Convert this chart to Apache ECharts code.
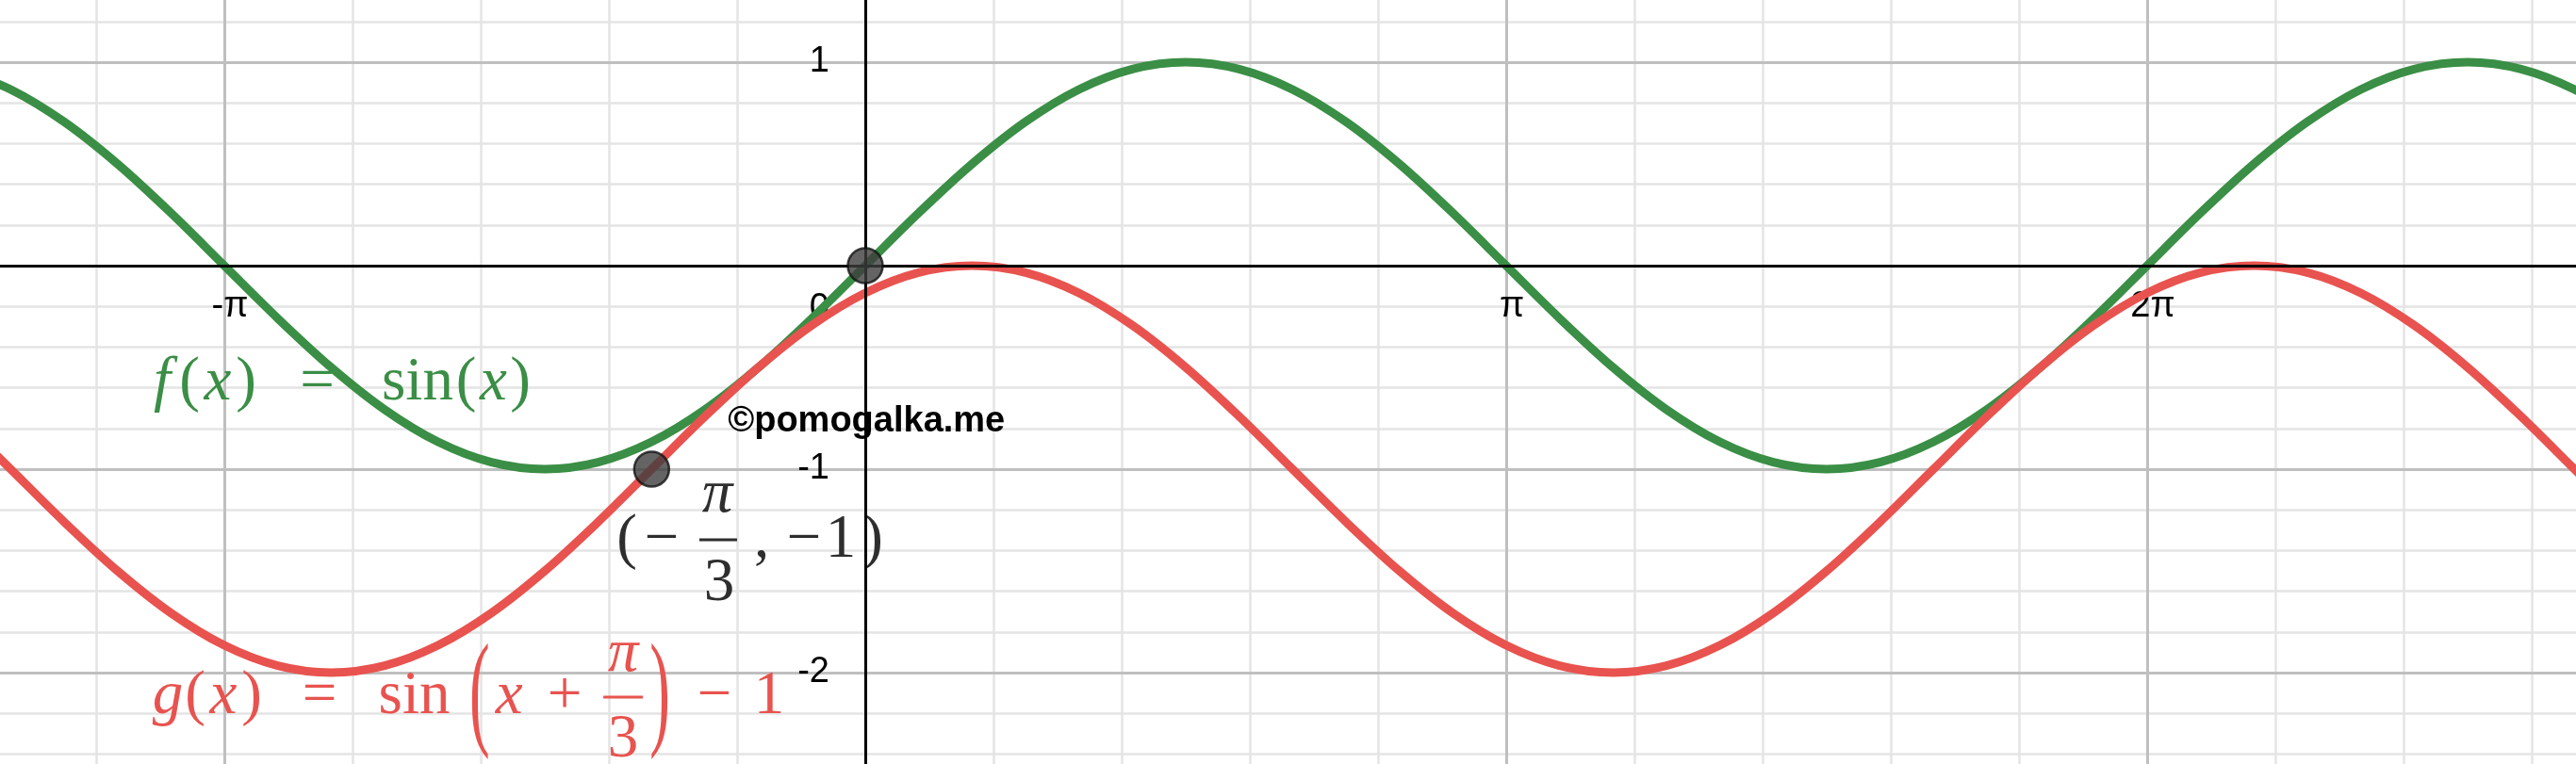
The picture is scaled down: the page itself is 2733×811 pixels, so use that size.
<!DOCTYPE html>
<html><head><meta charset="utf-8">
<script src="https://cdn.jsdelivr.net/npm/echarts@6/dist/echarts.min.js"></script>
<style>html,body{margin:0;padding:0;background:#fff;overflow:hidden}#c{width:2733px;height:811px}</style>
</head><body><div id="c"></div>
<script>
// ---- data (x in degrees; tick labels show multiples of pi) ----
const xDeg = [-255,-240,-225,-210,-195,-180,-165,-150,-135,-120,-105,-90,-75,-60,-45,-30,-15,0,15,30,45,60,75,90,105,120,135,150,165,180,195,210,225,240,255,270,285,300,315,330,345,360,375,390,405,420,435,450,465,480,495];
const fVals = [0.966,0.866,0.707,0.5,0.259,0,-0.259,-0.5,-0.707,-0.866,-0.966,-1,-0.966,-0.866,-0.707,-0.5,-0.259,0,0.259,0.5,0.707,0.866,0.966,1,0.966,0.866,0.707,0.5,0.259,0,-0.259,-0.5,-0.707,-0.866,-0.966,-1,-0.966,-0.866,-0.707,-0.5,-0.259,0,0.259,0.5,0.707,0.866,0.966,1,0.966,0.866,0.707];
const gVals = [-0.741,-1,-1.259,-1.5,-1.707,-1.866,-1.966,-2,-1.966,-1.866,-1.707,-1.5,-1.259,-1,-0.741,-0.5,-0.293,-0.134,-0.034,0,-0.034,-0.134,-0.293,-0.5,-0.741,-1,-1.259,-1.5,-1.707,-1.866,-1.966,-2,-1.966,-1.866,-1.707,-1.5,-1.259,-1,-0.741,-0.5,-0.293,-0.134,-0.034,0,-0.034,-0.134,-0.293,-0.5,-0.741,-1,-1.259];
const keyPoints = [[0,0],[-60,-1]];
const xTickValues = [-180,180,360];
const xTickLabels = ['-π','π','2π'];
const yTickValues = [1,-1,-2];
const yTickLabels = ['1','-1','-2'];

// ---- layout ----
const X0 = 918, Y0 = 282, KX = 680/180, KY = 216;
function box(xmin,xmax,ymin,ymax){
  return {left: X0 + xmin*KX, top: Y0 - ymax*KY, width: (xmax-xmin)*KX, height: (ymax-ymin)*KY,
    containLabel:false, outerBoundsMode:'none'};
}
const GREEN = '#3a8e45', RED = '#e8534f', DARK = '#2e2e2e';
const SERIF = '"Liberation Serif", "Times New Roman", serif';
const SANS = '"Liberation Sans", Arial, sans-serif';
const FS = 65;

const minorLine = {show:true, lineStyle:{color:'#e4e4e4', width:2.5}};
const majorLine = {show:true, lineStyle:{color:'#bfbfbf', width:3}};
const noLine = {show:false};
const hidden = {axisLine:noLine, axisTick:{show:false}, axisLabel:{show:false}, splitLine:noLine};

const chart = echarts.init(document.getElementById('c'), null, {renderer:'canvas'});
const option = {
  animation:false,
  backgroundColor:'#ffffff',
  grid:[
    box(-252,504,-2.6,1.4),   // 0: minor grid + data
    box(-360,540,-3,2),       // 1: major grid
    box(-252,504,-2.6,1.4),   // 2: black axis lines
    box(-360,540,0,2),        // 3: x tick labels (bottom edge on y = 0)
    box(0,540,-3,2)           // 4: y tick labels (left edge on x = 0)
  ],
  xAxis:[
    Object.assign({gridIndex:0, type:'value', min:-252, max:504, interval:36, z:0}, hidden, {splitLine:minorLine}),
    Object.assign({gridIndex:1, type:'value', min:-360, max:540, interval:180, z:1}, hidden, {splitLine:majorLine}),
    Object.assign({gridIndex:2, type:'value', min:-252, max:504, z:4}, hidden,
      {axisLine:{show:true, onZero:true, lineStyle:{color:'#000', width:3}}}),
    Object.assign({gridIndex:3, type:'value', min:-360, max:540, interval:180, z:1, position:'bottom'}, hidden,
      {axisLabel:{show:true, margin:25, fontSize:38, fontFamily:SANS, color:'#000', padding:[0,0,0,12],
        formatter:function(v){const i=xTickValues.indexOf(v);return i>=0?xTickLabels[i]:'';}}}),
    Object.assign({gridIndex:4, type:'value', min:0, max:540, z:1}, hidden)
  ],
  yAxis:[
    Object.assign({gridIndex:0, type:'value', min:-2.6, max:1.4, interval:0.2, z:0}, hidden, {splitLine:minorLine}),
    Object.assign({gridIndex:1, type:'value', min:-3, max:2, interval:1, z:1}, hidden, {splitLine:majorLine}),
    Object.assign({gridIndex:2, type:'value', min:-2.6, max:1.4, z:4}, hidden,
      {axisLine:{show:true, onZero:true, lineStyle:{color:'#000', width:3}}}),
    Object.assign({gridIndex:3, type:'value', min:0, max:2, z:1}, hidden),
    Object.assign({gridIndex:4, type:'value', min:-3, max:2, interval:1, z:1, position:'left'}, hidden,
      {axisLabel:{show:true, margin:38, fontSize:38, fontFamily:SANS, color:'#000',
        formatter:function(v){const i=yTickValues.indexOf(v);return i>=0?yTickLabels[i]:'';}}})
  ],
  series:[
    {type:'line', name:'f', xAxisIndex:0, yAxisIndex:0, z:3, smooth:0.34, symbol:'none',
     lineStyle:{color:GREEN, width:9}, data:xDeg.map((x,i)=>[x,fVals[i]])},
    {type:'line', name:'g', xAxisIndex:0, yAxisIndex:0, z:3, smooth:0.34, symbol:'none',
     lineStyle:{color:RED, width:9}, data:xDeg.map((x,i)=>[x,gVals[i]])},
    {type:'scatter', xAxisIndex:0, yAxisIndex:0, z:5, symbolSize:37,
     itemStyle:{color:'#3d3d3d', borderColor:'#111', borderWidth:2.5}, data:keyPoints}
  ]
};
chart.setOption(option);

// ---- annotations (anchors in data coordinates: degrees, y) ----
const fLabelAt = [-202.5,-0.58];
const gLabelAt = [-200.9,-2.12];
const gOpenAt = [-108.3,-2.127];
const gXAt = [-104.8,-2.12];
const gNumAt = [-68.0,-1.91];
const gBarAt = [-68.0,-2.120];
const gDenAt = [-68.0,-2.333];
const gCloseAt = [-57.7,-2.127];
const gTailAt = [-48.97,-2.12];
const pHeadAt = [-69.6,-1.352];
const pNumAt = [-41.56,-1.13];
const pBarAt = [-41.3,-1.347];
const pDenAt = [-41.0,-1.565];
const pTailAt = [-32.29,-1.352];
const zeroAt = [-10.06,-0.213];
const markAt = [-38.6,-0.765];

function px(p){ return chart.convertToPixel({gridIndex:0}, p); }
function richText(at, tokens, color){
  const r = {}; let s = '';
  tokens.forEach(function(t,j){
    const name = 't'+j;
    r[name] = {fontFamily:SERIF, fontSize:FS, fontStyle:t[0]==='i'?'italic':'normal', fill:color, width:t[1], align:'center'};
    s += '{'+name+'|'+t[2]+'}';
  });
  const p = px(at);
  return {type:'text', x:p[0], y:p[1], z:2, style:{text:s, rich:r, fill:color, align:'left', verticalAlign:'middle', fontFamily:SERIF, fontSize:FS}};
}
function plain(at, text, color, opts){
  const p = px(at);
  opts = opts || {};
  return {type:'text', x:p[0], y:p[1], z:opts.z||2, scaleY:opts.scaleY||1,
    style:{text:text, fill:color, fontFamily:opts.family||SERIF, fontSize:opts.size||FS,
      fontStyle:opts.italic?'italic':'normal', fontWeight:opts.weight||'normal',
      align:opts.align||'center', verticalAlign:'middle'}};
}
function bar(at, w, color){
  const p = px(at);
  return {type:'rect', z:2, shape:{x:p[0]-w/2, y:p[1]-1.5, width:w, height:3}, style:{fill:color}};
}
const els = [
  richText(fLabelAt, [['i',38,'f'],['r',20,'('],['i',40,'x'],['r',20,')'],['r',131,'='],['r',82,'sin'],['r',21,'('],['i',37,'x'],['r',20,')']], GREEN),
  richText(gLabelAt, [['i',38,'g'],['r',20,'('],['i',40,'x'],['r',20,')'],['r',124,'='],['r',77,'sin']], RED),
  plain(gOpenAt, '(', RED, {scaleY:2.07}),
  richText(gXAt, [['i',36,'x'],['r',82,'+']], RED),
  plain(gNumAt, 'π', RED, {italic:true}),
  bar(gBarAt, 42, RED),
  plain(gDenAt, '3', RED),
  plain(gCloseAt, ')', RED, {scaleY:2.07}),
  richText(gTailAt, [['r',50,'−'],['r',66,'1']], RED),
  richText(pHeadAt, [['r',20,'('],['r',54,'−']], DARK),
  plain(pNumAt, 'π', DARK, {italic:true}),
  bar(pBarAt, 40, DARK),
  plain(pDenAt, '3', DARK),
  richText(pTailAt, [['r',24,','],['r',66,'−'],['r',12,'1'],['r',56,')']], DARK),
  plain(zeroAt, '0', '#000', {family:SANS, size:38, align:'right'}),
  plain(markAt, '©pomogalka.me', '#000', {family:SANS, size:38, weight:'bold', align:'left', z:3})
];
chart.setOption({graphic:{elements:els}});
</script>
</body></html>
